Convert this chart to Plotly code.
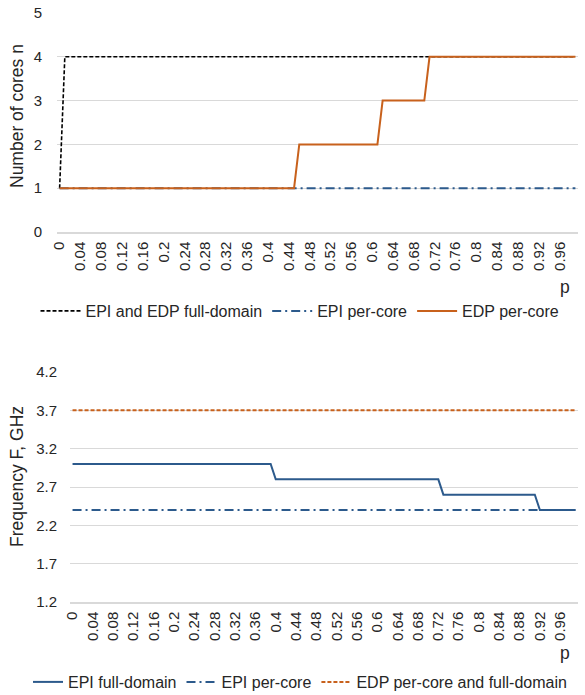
import plotly.graph_objects as go

# Workload parameter p (categories 0 .. 0.99)
p_values = [round(i / 100, 2) for i in range(100)]
p_labels = [f"{v:g}" for v in p_values]
tick_labels = p_labels[::4]

# Number of cores n
cores_full_domain = [1] + [4] * 99
cores_epi_per_core = [1] * 100
cores_edp_per_core = [1] * 46 + [2] * 16 + [3] * 9 + [4] * 29

# Frequency F, GHz
freq_epi_full_domain = [3.0] * 40 + [2.8] * 33 + [2.6] * 19 + [2.4] * 8
freq_epi_per_core = [2.4] * 100
freq_edp_both = [3.7] * 100

BLUE = "#2C5A8C"
ORANGE = "#C8611C"
GRID = "#D9D9D9"
TEXT = "#262626"
FONT = "Liberation Sans, Arial, sans-serif"

W, H = 585, 695


def px_x(x):
    return x / W


def px_y(y):
    return 1 - y / H


fig = go.Figure()

# Top panel: number of cores
fig.add_trace(go.Scatter(x=p_labels, y=cores_full_domain, mode="lines",
                         name="EPI and EDP full-domain",
                         line=dict(color="black", width=1.6, dash="4px,2px"),
                         xaxis="x", yaxis="y", legend="legend"))
fig.add_trace(go.Scatter(x=p_labels, y=cores_epi_per_core, mode="lines",
                         name="EPI per-core",
                         line=dict(color=BLUE, width=2, dash="9px,4px,2px,4px"),
                         xaxis="x", yaxis="y", legend="legend"))
fig.add_trace(go.Scatter(x=p_labels, y=cores_edp_per_core, mode="lines",
                         name="EDP per-core",
                         line=dict(color=ORANGE, width=2),
                         xaxis="x", yaxis="y", legend="legend"))

# Bottom panel: frequency
fig.add_trace(go.Scatter(x=p_labels, y=freq_epi_full_domain, mode="lines",
                         name="EPI full-domain",
                         line=dict(color=BLUE, width=2),
                         xaxis="x2", yaxis="y2", legend="legend2"))
fig.add_trace(go.Scatter(x=p_labels, y=freq_epi_per_core, mode="lines",
                         name="EPI per-core",
                         line=dict(color=BLUE, width=2, dash="9px,4px,2px,4px"),
                         xaxis="x2", yaxis="y2", legend="legend2"))
fig.add_trace(go.Scatter(x=p_labels, y=freq_edp_both, mode="lines",
                         name="EDP per-core and full-domain",
                         line=dict(color=ORANGE, width=2, dash="4px,2px"),
                         xaxis="x2", yaxis="y2", legend="legend2"))

xaxis_common = dict(
    type="category", tickmode="array", tickvals=tick_labels, ticktext=tick_labels,
    tickangle=-90, showgrid=False, showline=True, linecolor=GRID, linewidth=1.5,
    ticks="", zeroline=False, range=[-0.5, 99.5], automargin=False,
    ticklabelstandoff=2,
    tickfont=dict(family=FONT, size=15, color=TEXT),
)
yaxis_common = dict(
    showgrid=True, gridcolor=GRID, gridwidth=1, zeroline=False, showline=False,
    ticks="", automargin=False, tickfont=dict(family=FONT, size=15, color=TEXT),
)

legend_common = dict(
    orientation="h", xanchor="center", x=0.5, yanchor="middle",
    font=dict(family=FONT, size=16, color=TEXT), bgcolor="rgba(0,0,0,0)",
    tracegroupgap=0,
)

title_font = dict(family=FONT, size=17.5, color=TEXT)

fig.update_layout(
    width=W, height=H,
    margin=dict(l=0, r=0, t=0, b=0, autoexpand=False),
    paper_bgcolor="white", plot_bgcolor="white",
    font=dict(family=FONT, color=TEXT),
    xaxis=dict(domain=[px_x(57), px_x(578)], anchor="y", **xaxis_common),
    yaxis=dict(domain=[px_y(232), px_y(13)], anchor="x", range=[0, 5],
               tickmode="linear", tick0=0, dtick=1, ticklabelstandoff=14,
               **yaxis_common),
    xaxis2=dict(domain=[px_x(70), px_x(578)], anchor="y2", **xaxis_common),
    yaxis2=dict(domain=[px_y(602), px_y(372)], anchor="x2", range=[1.2, 4.2],
                tickmode="linear", tick0=1.2, dtick=0.5, tickformat=".1f",
                ticklabelstandoff=12, **yaxis_common),
    legend=dict(y=px_y(311), x=px_x(300), itemwidth=40, **{k: v for k, v in legend_common.items() if k != "x"}),
    legend2=dict(y=px_y(682), x=px_x(300), itemwidth=30, **{k: v for k, v in legend_common.items() if k != "x"}),
    showlegend=True,
    annotations=[
        dict(text="Number of cores n", x=px_x(17), y=px_y(116), xref="paper",
             yref="paper", textangle=-90, showarrow=False,
             xanchor="center", yanchor="middle", font=title_font),
        dict(text="Frequency F, GHz", x=px_x(17), y=px_y(477), xref="paper",
             yref="paper", textangle=-90, showarrow=False,
             xanchor="center", yanchor="middle", font=title_font),
        dict(text="p", x=px_x(565), y=px_y(287), xref="paper", yref="paper",
             showarrow=False, xanchor="center", yanchor="middle", font=title_font),
        dict(text="p", x=px_x(565), y=px_y(653), xref="paper", yref="paper",
             showarrow=False, xanchor="center", yanchor="middle", font=title_font),
    ],
)

fig.write_html("out.html")
